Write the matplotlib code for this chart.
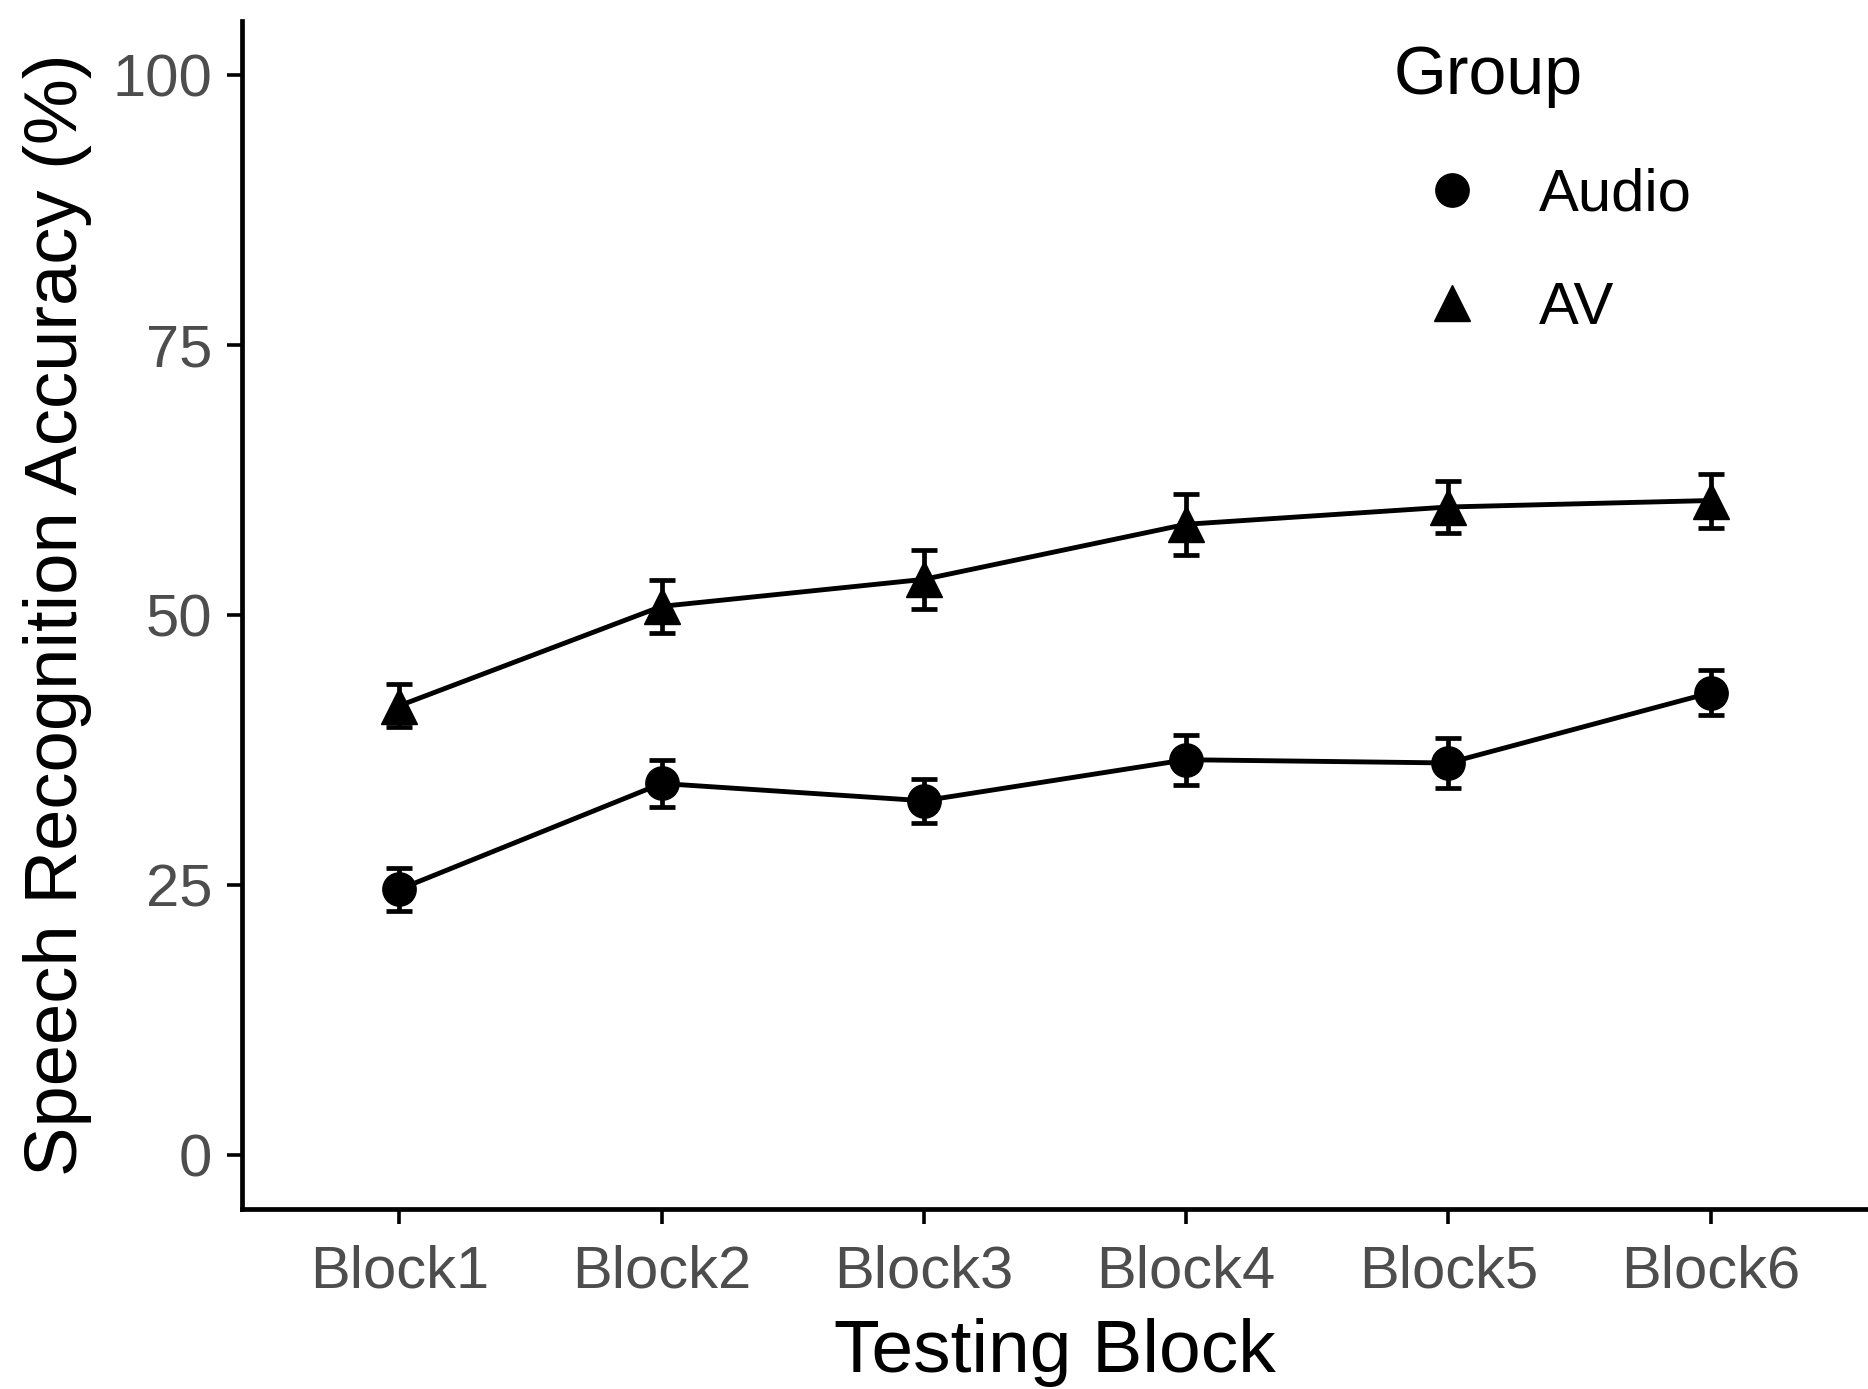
import matplotlib
matplotlib.use("Agg")
import matplotlib.pyplot as plt

plt.rcParams['font.family'] = ['Liberation Sans', 'DejaVu Sans']

blocks = ["Block1", "Block2", "Block3", "Block4", "Block5", "Block6"]
audio_mean = [24.6, 34.4, 32.8, 36.6, 36.3, 42.8]
audio_se = [2.0, 2.2, 2.05, 2.3, 2.3, 2.1]
av_mean = [41.6, 50.8, 53.3, 58.4, 60.0, 60.6]
av_se = [2.0, 2.45, 2.7, 2.85, 2.45, 2.5]
groups = ["Audio", "AV"]
yticks = [0, 25, 50, 75, 100]

W, H = 1868, 1389
fig = plt.figure(figsize=(W / 100, H / 100), dpi=100)
ax = fig.add_axes([242 / W, 180 / H, (W - 242) / W, (1368 - 180) / H])

x = list(range(1, len(blocks) + 1))
for mean, se, mk, lab in [(audio_mean, audio_se, 'o', groups[0]), (av_mean, av_se, '^', groups[1])]:
    ax.errorbar(x, mean, yerr=se, fmt='none', ecolor='black', elinewidth=3.4,
                capsize=9.7, capthick=3.4, zorder=2)
    ax.plot(x, mean, color='black', lw=3.5, zorder=3)
    ax.plot(x, mean, linestyle='none', marker=mk, color='black',
            markersize=24 if mk == 'o' else 26, zorder=4, label=lab)

ax.set_xlim(0.4, 6.6)
ax.set_ylim(-5, 105)
ax.set_xticks(x)
ax.set_xticklabels(blocks)
ax.set_yticks(yticks)
ax.set_yticklabels([str(v) for v in yticks])

for s in ['top', 'right']:
    ax.spines[s].set_visible(False)
for s in ['left', 'bottom']:
    ax.spines[s].set_linewidth(3.4)
    ax.spines[s].set_color('black')
    ax.spines[s].set_capstyle('projecting')

ax.tick_params(axis='both', direction='out', length=10.5, width=2.6, colors='black',
               labelsize=43, labelcolor='#4D4D4D')
ax.tick_params(axis='y', pad=11)
ax.tick_params(axis='x', pad=15)

ax.set_xlabel("Testing Block", fontsize=54, color='black', va='center')
ax.xaxis.set_label_coords(0.5, -0.121)
ax.set_ylabel("Speech Recognition Accuracy (%)", fontsize=53.5, color='black', va='center', ha='center')
ax.yaxis.set_label_coords(-0.1135, 0.5)

handles, labels = ax.get_legend_handles_labels()
leg = ax.legend(handles, labels, title="Group", loc='upper left',
                bbox_to_anchor=(1394 / W, 1 - 44 / H), bbox_transform=fig.transFigure,
                frameon=False, fontsize=43, title_fontsize=49, borderpad=0, borderaxespad=0,
                handletextpad=0.47, labelspacing=0.98, handlelength=1.95, markerscale=1.0)
leg._legend_box.align = "left"
leg._legend_box.sep = 43

fig.savefig("out.png", dpi=100, facecolor='white')
